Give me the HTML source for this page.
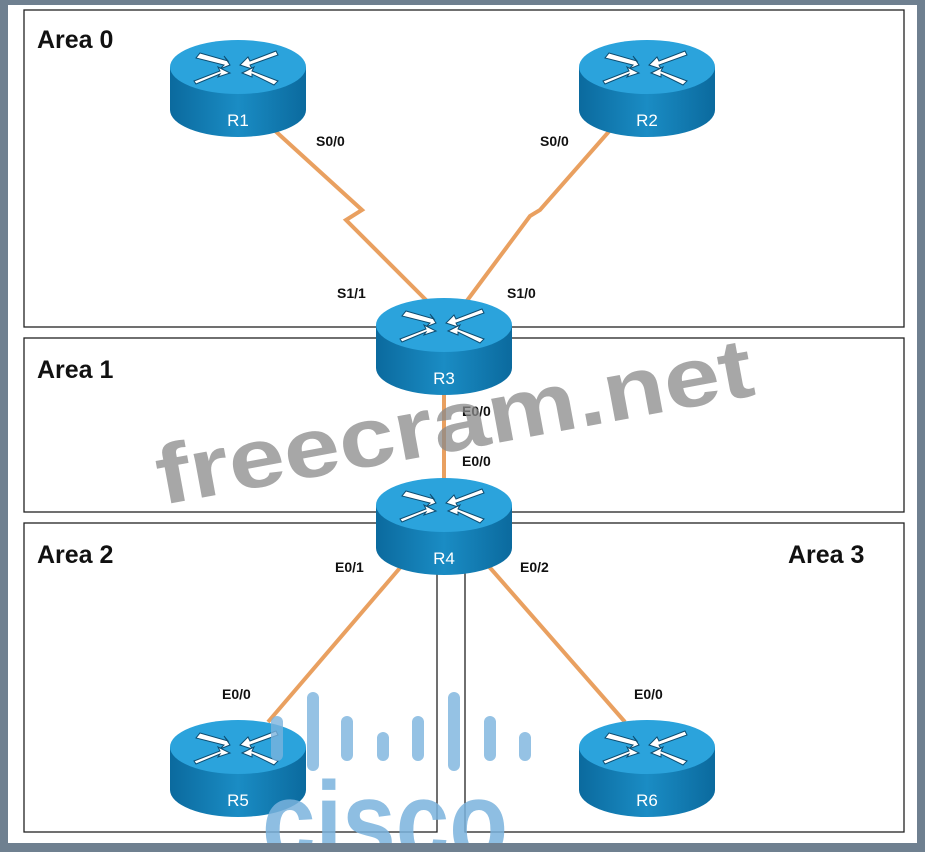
<!DOCTYPE html><html><head><style>body{margin:0;background:#fff}svg{display:block}</style></head><body>
<svg width="925" height="852" viewBox="0 0 925 852" xmlns="http://www.w3.org/2000/svg" font-family="Liberation Sans, sans-serif">
<defs>
<linearGradient id="bd" x1="0" x2="1"><stop offset="0" stop-color="#0b6a9e"/><stop offset=".5" stop-color="#1a8cc4"/><stop offset="1" stop-color="#0b6a9e"/></linearGradient>
<g id="rt">
<path d="M-68 0 V43 A68 27 0 0 0 68 43 V0 Z" fill="url(#bd)"/>
<ellipse cx="0" cy="0" rx="68" ry="27" fill="#2ba3dc"/>
<g fill="#fff" stroke="#0d4c70" stroke-width="1">
<path d="M-38 -14 L-10 -6 L-14 -11 L-8 -2 L-18 2 L-14 -2 L-42 -9Z"/>
<path d="M-44 14 L-18 4 L-20 0 L-8 6 L-20 10 L-18 7 L-42 17Z"/>
<path d="M38 -16 L12 -6 L10 -10 L2 -2 L14 2 L12 -2 L40 -12Z"/>
<path d="M40 14 L14 4 L16 0 L4 6 L14 10 L14 7 L36 18Z"/>
</g>
</g>
</defs>
<rect x="0" y="0" width="925" height="852" fill="#fff"/>
<g fill="none" stroke="#222" stroke-width="1.3">
<rect x="24" y="10" width="880" height="317"/>
<rect x="24" y="338" width="880" height="174"/>
<rect x="24" y="523" width="413" height="309"/>
<rect x="465" y="523" width="439" height="309"/>
</g>
<g font-weight="bold" font-size="25" fill="#111">
<text x="37" y="48">Area 0</text><text x="37" y="378">Area 1</text>
<text x="37" y="563">Area 2</text><text x="788" y="563">Area 3</text>
</g>
<g stroke="#e9a060" stroke-width="4" fill="none">
<polyline points="272,128 362,210 346,220 428,302"/>
<polyline points="612,128 540,210 530,216 466,302"/>
<line x1="444" y1="388" x2="444" y2="482"/>
<line x1="405" y1="562" x2="268" y2="722"/>
<line x1="485" y1="562" x2="625" y2="722"/>
</g>
<use href="#rt" x="238" y="67"/><use href="#rt" x="647" y="67"/>
<use href="#rt" x="444" y="325"/><use href="#rt" x="444" y="505"/>
<use href="#rt" x="238" y="747"/><use href="#rt" x="647" y="747"/>
<g fill="#fff" font-size="17" text-anchor="middle">
<text x="238" y="126">R1</text><text x="647" y="126">R2</text>
<text x="444" y="384">R3</text><text x="444" y="564">R4</text>
<text x="238" y="806">R5</text><text x="647" y="806">R6</text>
</g>
<g font-size="14" font-weight="bold" fill="#111">
<text x="316" y="146">S0/0</text><text x="540" y="146">S0/0</text>
<text x="337" y="298">S1/1</text><text x="507" y="298">S1/0</text>
<text x="462" y="416">E0/0</text><text x="462" y="466">E0/0</text>
<text x="335" y="572">E0/1</text><text x="520" y="572">E0/2</text>
<text x="222" y="699">E0/0</text><text x="634" y="699">E0/0</text>
</g>
<text font-size="84" font-weight="bold" fill="#8a8a8a" fill-opacity=".75" transform="translate(162,505) rotate(-10.5)" textLength="605" lengthAdjust="spacingAndGlyphs">freecram.net</text>
<g stroke="#7ab3dd" stroke-opacity=".8" stroke-linecap="round" stroke-width="12">
<line x1="277" y1="722" x2="277" y2="755"/>
<line x1="313" y1="698" x2="313" y2="765"/><line x1="347" y1="722" x2="347" y2="755"/>
<line x1="383" y1="738" x2="383" y2="755"/><line x1="418" y1="722" x2="418" y2="755"/>
<line x1="454" y1="698" x2="454" y2="765"/><line x1="490" y1="722" x2="490" y2="755"/>
<line x1="525" y1="738" x2="525" y2="755"/>
</g>
<text x="262" y="860" font-size="112" font-weight="bold" fill="#7ab3dd" fill-opacity=".85" textLength="246" lengthAdjust="spacingAndGlyphs">cisco</text>
<path d="M0 0H925V852H0Z M8 5V843H917V5Z" fill="#6f8090" fill-rule="evenodd"/>
</svg>
</body></html>
